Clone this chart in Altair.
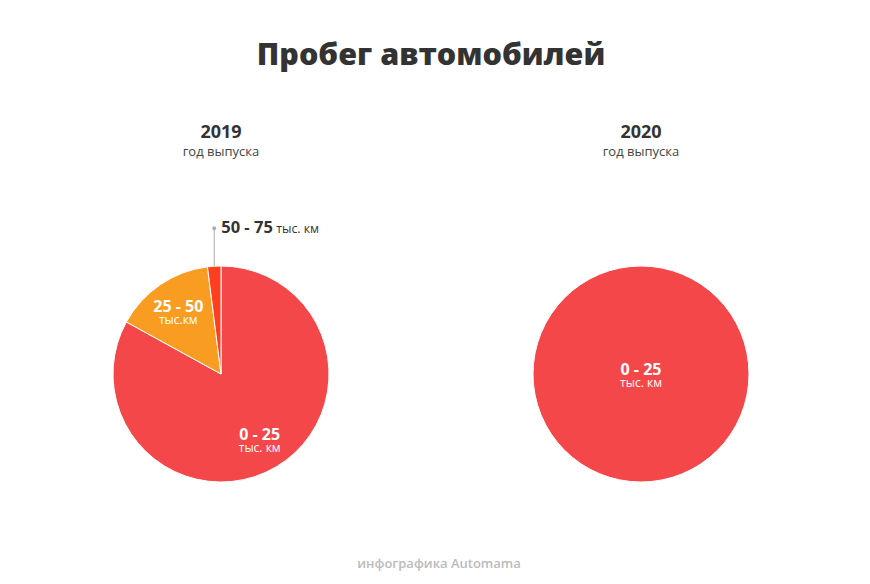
import altair as alt
import pandas as pd

# ---- data ----
years = ["2019", "2019", "2019", "2020"]
ranges = ["0 - 25", "25 - 50", "50 - 75", "0 - 25"]
units = ["тыс. км", "тыс.км", "тыс. км", "тыс. км"]
shares = [83, 15, 2, 100]

range_domain = ["0 - 25", "25 - 50", "50 - 75"]
range_colors = ["#F44749", "#F89D22", "#FF3F20"]

title_text = "Пробег автомобилей"
panel_sub = "год выпуска"
footer_text = "инфографика Automama"

df = pd.DataFrame({"year": years, "range": ranges, "unit": units, "share": shares})

FONT = "Open Sans"
R = 108
W, H = 400, 320


def panel(year):
    base = alt.Chart(df).transform_filter(alt.datum.year == year).transform_calculate(
        inlabel="datum.share >= 5 ? datum.range : ''",
        inunit="datum.share >= 5 ? datum.unit : ''",
    )
    theta = alt.Theta("share:Q", stack=True)
    order = alt.Order("range:N", sort="ascending")
    arc = base.mark_arc(outerRadius=R, stroke="white", strokeWidth=1).encode(
        theta=theta,
        order=order,
        color=alt.Color("range:N", scale=alt.Scale(domain=range_domain, range=range_colors), legend=None),
    )
    rad = 76 if year == "2019" else 0
    lab1 = base.mark_text(radius=rad, dy=-4, font=FONT, fontWeight="bold", fontSize=16, color="white").encode(
        theta=theta, order=order, text="inlabel:N"
    )
    lab2 = base.mark_text(radius=rad, dy=9, font=FONT, fontSize=12, color="white").encode(
        theta=theta, order=order, text="inunit:N"
    )
    layers = [arc, lab1, lab2]

    lead = base.transform_window(
        cum="sum(share)", sort=[alt.SortField("range")]
    ).transform_joinaggregate(total="sum(share)").transform_calculate(
        ang="2*PI*(datum.cum - datum.share/2)/datum.total"
    ).transform_calculate(
        px=f"{R}*sin(datum.ang)",
        py=f"{R}*cos(datum.ang)",
        py2=f"{R}*cos(datum.ang) + 38",
    ).transform_filter("datum.share < 5")
    xs = alt.Scale(domain=[-W / 2, W / 2], nice=False, zero=False)
    ys = alt.Scale(domain=[-H / 2, H / 2], nice=False, zero=False)
    X = alt.X("px:Q", scale=xs, axis=None)
    rule = lead.mark_rule(color="#aaaaaa", strokeWidth=1).encode(
        x=X, y=alt.Y("py:Q", scale=ys, axis=None), y2="py2:Q"
    )
    dot = lead.mark_circle(size=14, color="#aaaaaa", opacity=1).encode(
        x=X, y=alt.Y("py2:Q", scale=ys, axis=None)
    )
    t1 = lead.mark_text(align="left", baseline="middle", dx=7, font=FONT, fontWeight="bold", fontSize=16.5,
                        color="#333333").encode(x=X, y=alt.Y("py2:Q", scale=ys, axis=None), text="range:N")
    t2 = lead.mark_text(align="left", baseline="middle", dx=62, dy=1, font=FONT, fontSize=12.3,
                        color="#333333").encode(x=X, y=alt.Y("py2:Q", scale=ys, axis=None), text="unit:N")
    layers += [rule, dot, t1, t2]

    return alt.layer(*layers).properties(
        width=W,
        height=H,
        title=alt.TitleParams(
            year,
            subtitle=panel_sub,
            font=FONT,
            fontSize=18,
            fontWeight="bold",
            color="#333333",
            subtitleFont=FONT,
            subtitleFontSize=13,
            subtitleColor="#444444",
            subtitlePadding=4,
            anchor="middle",
            offset=55,
        ),
    )


row = alt.hconcat(panel("2019"), panel("2020"), spacing=20)

footer = alt.Chart(pd.DataFrame({"t": [footer_text]})).mark_text(
    font=FONT, fontSize=13, fontWeight=600, color="#bbbbbb", dx=8
).encode(text="t:N").properties(width=2 * W + 20, height=20)

chart = alt.vconcat(row, footer, spacing=20).properties(
    title=alt.TitleParams(title_text, font=FONT, fontSize=30.5, fontWeight=800, color="#333333",
                          anchor="middle", offset=53),
    padding={"left": 13, "top": 32, "right": 0, "bottom": 0},
    background="white",
).configure_view(strokeWidth=0)

chart.save("out.html", embed_options={"renderer": "svg", "actions": False})
